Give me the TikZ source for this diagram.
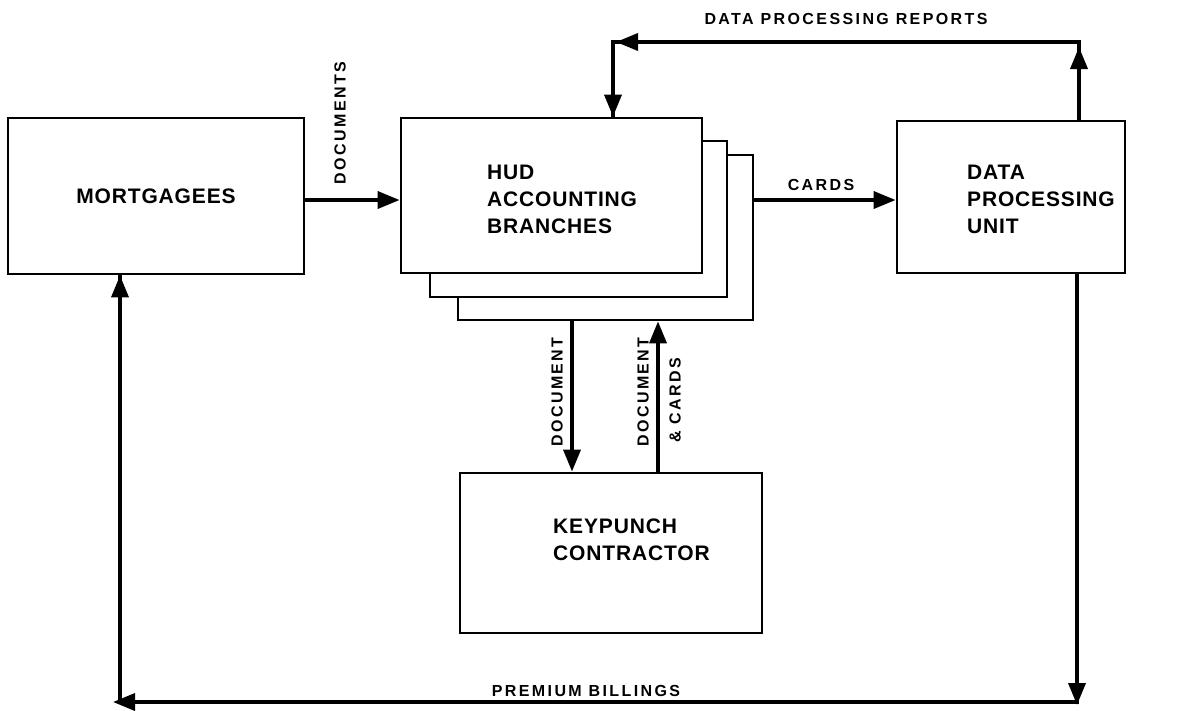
\documentclass[tikz,border=0pt]{standalone}
\usepackage{fontspec}
\setmainfont{Liberation Sans}
\newfontfamily\boxfont[LetterSpace=4]{Liberation Sans}
\newfontfamily\lblfont[LetterSpace=15]{Liberation Sans}
\usetikzlibrary{arrows.meta}
\begin{document}
\begin{tikzpicture}[x=1pt,y=-1pt,
  box/.style={draw,line width=2.8pt,fill=white,inner sep=0pt,line join=miter},
  conn/.style={line width=3.6pt,line join=miter},
  tip/.style={-{Triangle[length=22pt,width=17pt]}},
  big/.style={font=\boxfont\bfseries\fontsize{21}{27}\selectfont,align=left,anchor=west,inner sep=0pt},
  lbl/.style={font=\lblfont\bfseries\fontsize{16}{18}\selectfont,inner sep=0pt}]
\path[use as bounding box,fill=white] (0,0) rectangle (1193,710);

% boxes
\node[box,minimum width=296pt,minimum height=156pt] (mort) at (156,196) {};
\node[box,minimum width=295pt,minimum height=165pt] (hud3) at (605.5,237.5) {};
\node[box,minimum width=297pt,minimum height=156pt] (hud2) at (578.5,219) {};
\node[box,minimum width=301pt,minimum height=155pt] (hud1) at (551.5,195.5) {};
\node[box,minimum width=228pt,minimum height=152pt] (dpu) at (1011,197) {};
\node[box,minimum width=302pt,minimum height=160pt] (key) at (611,553) {};

% box texts
\node[big,anchor=center] (mortt) at (156,196) {MORTGAGEES};
\node[big] (hudt) at (487,199) {HUD\\ACCOUNTING\\BRANCHES};
\node[big] (dput) at (967,199) {DATA\\PROCESSING\\UNIT};
\node[big] (keyt) at (553,539.5) {KEYPUNCH\\CONTRACTOR};

% helper coordinates
\coordinate (ay) at (0,200);
\coordinate (tr) at (1079,42);
\coordinate (tl) at (613,42);
\coordinate (br) at (1077,702);
\coordinate (bl) at (120,702);
\coordinate (dx) at (572,0);
\coordinate (ux) at (658,0);

% documents / cards
\draw[conn,tip] (mort.east |- ay) -- (hud1.west |- ay);
\draw[conn,tip] (hud3.east |- ay) -- (dpu.west |- ay);

% data processing reports loop
\draw[conn] (dpu.north -| tr) -- (tr) -- (tl) -- (hud1.north -| tl);
\draw[conn,tip] (dpu.north -| tr) -- ([yshift=-5pt]tr);
\draw[conn,tip] (tr) -- ([xshift=3pt]tl);
\draw[conn,tip] (tl) -- (hud1.north -| tl);

% premium billings loop
\draw[conn] (dpu.south -| br) -- (br) -- (bl) -- (mort.south -| bl);
\draw[conn,tip] (dpu.south -| br) -- ([yshift=-3pt]br);
\draw[conn,tip] (br) -- ([xshift=-7pt]bl);
\draw[conn,tip] (bl) -- (mort.south -| bl);

% keypunch connectors
\draw[conn,tip] (hud3.south -| dx) -- (key.north -| dx);
\draw[conn,tip] (key.north -| ux) -- (hud3.south -| ux);

% labels
\node[lbl,rotate=90] (ldocs) at (340,123) {DOCUMENTS};
\node[lbl] (lcards) at (821,185) {CARDS};
\node[lbl] (ldpr) at (846,19) {DATA PROCESSING REPORTS};
\node[lbl] (lpb) at (586,691) {PREMIUM BILLINGS};
\node[lbl,rotate=90] (ldoc1) at (557,392) {DOCUMENT};
\node[lbl,rotate=90] (ldoc2) at (643,392) {DOCUMENT};
\node[lbl,rotate=90] (lcards2) at (675,400) {\& CARDS};
\end{tikzpicture}
\end{document}
